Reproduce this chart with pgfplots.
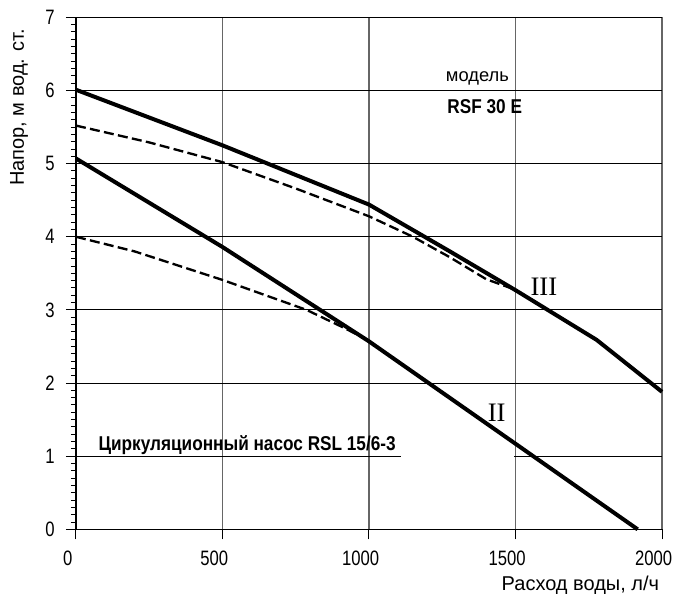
\documentclass[border=0pt]{standalone}
\usepackage{fontspec}
\setmainfont{Liberation Sans}
\newfontfamily\narrowfont{Liberation Sans}[FakeStretch=0.8]
\newfontfamily\boldnarrow{Liberation Sans}[FakeStretch=0.86]
\newfontfamily\romfont{Liberation Serif}
\usepackage{pgfplots}
\pgfplotsset{compat=1.18}

\begin{document}
\begin{tikzpicture}
\begin{axis}[
  at={(0pt,0pt)}, anchor=south west,
  scale only axis, width=351.6pt, height=307.2pt,
  xmin=0, xmax=2000, ymin=0, ymax=7,
  clip=false,
  axis lines=left, axis line style={-, black, line width=0.7pt},
  xtick={0,500,1000,1500,2000},
  ytick={0,1,...,7},
  minor y tick num=9,
  tick align=outside,
  major tick length=6pt, minor tick length=3pt,
  every tick/.style={black, line width=0.6pt},
  xmajorgrids, ymajorgrids,
  x grid style={gray!80!black, line width=0.7pt},
  y grid style={black, line width=0.6pt},
  /pgf/number format/assume math mode=true,
  /pgf/number format/1000 sep={},
  xticklabel style={font=\fontsize{12.5}{14}\narrowfont, anchor=north, inner sep=0pt, yshift=-7pt, xshift=-5pt},
  yticklabel style={font=\fontsize{12.5}{14}\narrowfont, anchor=east, inner sep=0pt},
  yticklabel shift=6.6pt,
]
% break in the grid line at 1 m
\addplot[white, line width=1.4pt] coordinates {(1108,1) (1494,1)};

% curve III, measured (solid) and rated (dashed)
\addplot[black, line width=2.4pt, line join=round] coordinates {
  (0,6.01) (500,5.25) (1000,4.44) (1276,3.80) (1500,3.27) (1777,2.59) (2000,1.88)
};
\addplot[black, line width=1.4pt, dash pattern=on 6pt off 2.6pt] coordinates {
  (0,5.52) (250,5.29) (500,5.02) (750,4.66) (1000,4.28) (1150,4.00) (1276,3.72) (1400,3.42) (1490,3.29)
};

% curve II
\addplot[black, line width=2.4pt, line join=round] coordinates {
  (0,5.07) (500,3.86) (1000,2.57) (1500,1.17) (1917,0)
};
\addplot[black, line width=1.4pt, dash pattern=on 6pt off 2.6pt] coordinates {
  (0,4.00) (200,3.80) (500,3.41) (787,3.00) (912,2.76) (990,2.60)
};

\node[font=\fontsize{12}{14}\selectfont, rotate=90, anchor=center] at ([xshift=-34.2pt]axis cs:0,5.77) {Напор, м вод. ст.};
\node[font=\fontsize{12}{14}\selectfont, anchor=base east] at ([xshift=1.8pt, yshift=-36.4pt]axis cs:2000,0) {Расход воды, л/ч};

\node[font=\fontsize{11}{13}\selectfont, anchor=base] at (axis cs:1370,6.12) {модель};
\node[font=\fontsize{12}{14}\boldnarrow\bfseries, anchor=base] at (axis cs:1395,5.69) {RSF 30 E};
\node[font=\fontsize{12}{14}\boldnarrow\bfseries, anchor=base west, inner sep=0pt] at (axis cs:76,1.084) {Циркуляционный насос RSL 15/6-3};
\node[font=\fontsize{16}{18}\romfont, anchor=base] at (axis cs:1597,3.20) {III};
\node[font=\fontsize{16}{18}\romfont, anchor=base] at (axis cs:1436,1.47) {II};
\end{axis}
\pgfresetboundingbox
\path (-45.6pt,-39.4pt) rectangle (367.2pt,317.6pt);
\end{tikzpicture}
\end{document}
